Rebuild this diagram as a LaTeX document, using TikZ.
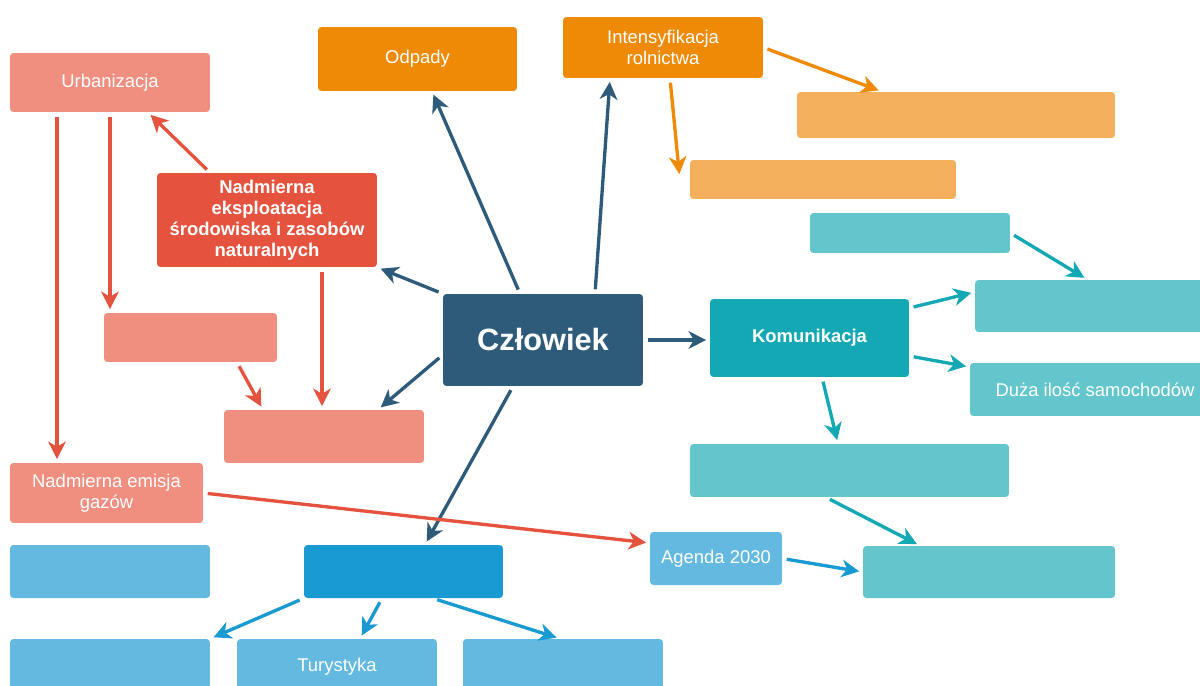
\documentclass[tikz,border=0pt]{standalone}
\usepackage{fontspec}
\setmainfont{Liberation Sans}
\usetikzlibrary{arrows.meta}
\definecolor{czlcol}{HTML}{2E5B7A}
\definecolor{redcol}{HTML}{E5533F}
\definecolor{salmon}{HTML}{F08E80}
\definecolor{orangecol}{HTML}{EF8A07}
\definecolor{lightorange}{HTML}{F4AF5C}
\definecolor{tealcol}{HTML}{14A8B5}
\definecolor{lightteal}{HTML}{63C6CD}
\definecolor{bluecol}{HTML}{1A9AD3}
\definecolor{lightblue}{HTML}{64B9E1}
\tikzset{
	box/.style={rounded corners=2pt, text=white, align=center, inner sep=1pt, font=\fontsize{10.5}{12}\selectfont},
	bbox/.style={box, font=\bfseries\fontsize{10.5}{12}\selectfont},
	sz/.style 2 args={minimum width=#1cm, minimum height=#2cm},
	arr/.style={line width=1.9pt, -{Stealth[length=10pt,width=10pt,inset=3pt]}, shorten <=2.5pt, shorten >=2pt},
}
\begin{document}
\begin{tikzpicture}[x=0.02cm,y=-0.02cm]
	\useasboundingbox (0,0) rectangle (1200,686);
	
	% centre
	\node[bbox, fill=czlcol, sz={4}{1.84}, font=\bfseries\fontsize{17.5}{20}\selectfont] (czl) at (543,340) {Człowiek};
	
	% red branch
	\node[bbox, fill=redcol, sz={4.4}{1.88}] (nad) at (267,220) {Nadmierna\\eksploatacja\\środowiska i zasobów\\naturalnych};
	\node[box, fill=salmon, sz={4}{1.18}] (urb) at (110,82.5) {Urbanizacja};
	\node[box, fill=salmon, sz={3.46}{0.98}] (se) at (190.5,337.5) {};
	\node[box, fill=salmon, sz={4}{1.06}] (sf) at (324,436.5) {};
	\node[box, fill=salmon, sz={3.86}{1.2}] (emisja) at (106.5,493) {Nadmierna emisja\\gazów};
	
	% orange branch
	\node[box, fill=orangecol, sz={3.98}{1.28}] (odpady) at (417.5,59) {Odpady};
	\node[box, fill=orangecol, sz={4}{1.22}] (intens) at (663,47.5) {Intensyfikacja\\rolnictwa};
	\node[box, fill=lightorange, sz={6.36}{0.92}] (or1) at (956,115) {};
	\node[box, fill=lightorange, sz={5.32}{0.78}] (or2) at (823,179.5) {};
	
	% teal branch
	\node[bbox, fill=tealcol, sz={3.98}{1.56}] (kom) at (809.5,338) {Komunikacja};
	\node[box, fill=lightteal, sz={4}{0.8}] (ta) at (910,233) {};
	\node[box, fill=lightteal, sz={4.7}{1.04}] (tb) at (1092.5,306) {};
	\node[box, fill=lightteal, sz={4.8}{1.06}] (duza) at (1090,389.5) {\hspace*{0.1cm}Duża ilość samochodów\hspace*{-0.1cm}};
	\node[box, fill=lightteal, sz={6.38}{1.06}] (tc) at (849.5,470.5) {};
	\node[box, fill=lightteal, sz={5.04}{1.04}] (td) at (989,572) {};
	
	% blue branch
	\node[box, fill=lightblue, sz={2.64}{1.06}] (agenda) at (716,558.5) {Agenda 2030};
	\node[box, fill=lightblue, sz={4}{1.06}] (bg) at (110,571.5) {};
	\node[box, fill=bluecol, sz={3.98}{1.06}] (bh) at (403.5,571.5) {};
	\node[box, fill=lightblue, sz={4}{1.12}] (b1) at (110,667) {};
	\node[box, fill=lightblue, sz={4}{1.12}] (tur) at (337,667) {Turystyka};
	\node[box, fill=lightblue, sz={4}{1.12}] (b3) at (563,667) {};
	
	% arrows from the centre
	\draw[arr, czlcol] ([xshift=-0.46cm]czl.north) -- ([xshift=0.29cm]odpady.south);
	\draw[arr, czlcol] ([xshift=1.04cm]czl.north) -- ([xshift=-1.06cm]intens.south);
	\draw[arr, czlcol] (czl.north west) -- (nad.south east);
	\draw[arr, czlcol] (czl.east) -- (czl.east -| kom.west);
	\draw[arr, czlcol] ([yshift=-0.3cm]czl.west) -- ([xshift=1.08cm]sf.north);
	\draw[arr, czlcol] ([xshift=-0.6cm]czl.south) -- ([xshift=0.43cm]bh.north);
	
	% red arrows
	\draw[arr, redcol] ([xshift=-1.14cm]nad.north) -- ([xshift=0.76cm]urb.south);
	\draw[arr, redcol] (urb.south) -- (urb.south |- se.north);
	\draw[arr, redcol] ([xshift=-1.06cm]urb.south) -- ([xshift=-1.06cm]urb.south |- emisja.north);
	\draw[arr, redcol] ([xshift=1.1cm]nad.south) -- ([xshift=1.1cm]nad.south |- sf.north);
	\draw[arr, redcol] ([xshift=0.93cm]se.south) -- ([xshift=-1.22cm]sf.north);
	\draw[arr, redcol] (emisja.east) -- ([yshift=0.31cm]agenda.west);
	
	% orange arrows
	\draw[arr, orangecol] (intens.east) -- ([xshift=-1.48cm]or1.north);
	\draw[arr, orangecol] ([xshift=0.14cm]intens.south) -- ([shift={(-0.2cm,-0.36cm)}]or2.north west);
	
	% teal arrows
	\draw[arr, tealcol] (ta.east) -- ([xshift=-0.1cm]tb.north);
	\draw[arr, tealcol] ([yshift=0.6cm]kom.east) -- ([yshift=0.28cm]tb.west);
	\draw[arr, tealcol] ([yshift=-0.36cm]kom.east) -- ([yshift=0.45cm]duza.west);
	\draw[arr, tealcol] ([xshift=0.25cm]kom.south) -- ([xshift=-0.23cm]tc.north);
	\draw[arr, tealcol] ([xshift=-0.47cm]tc.south) -- ([xshift=-1.38cm]td.north);
	
	% blue arrows
	\draw[arr, bluecol] (agenda.east) -- (td.west);
	\draw[arr, bluecol] (bh.south west) -- (b1.north east);
	\draw[arr, bluecol] ([xshift=-0.43cm]bh.south) -- ([xshift=0.46cm]tur.north);
	\draw[arr, bluecol] ([xshift=0.59cm]bh.south) -- ([xshift=-0.06cm]b3.north);
\end{tikzpicture}
\end{document}
